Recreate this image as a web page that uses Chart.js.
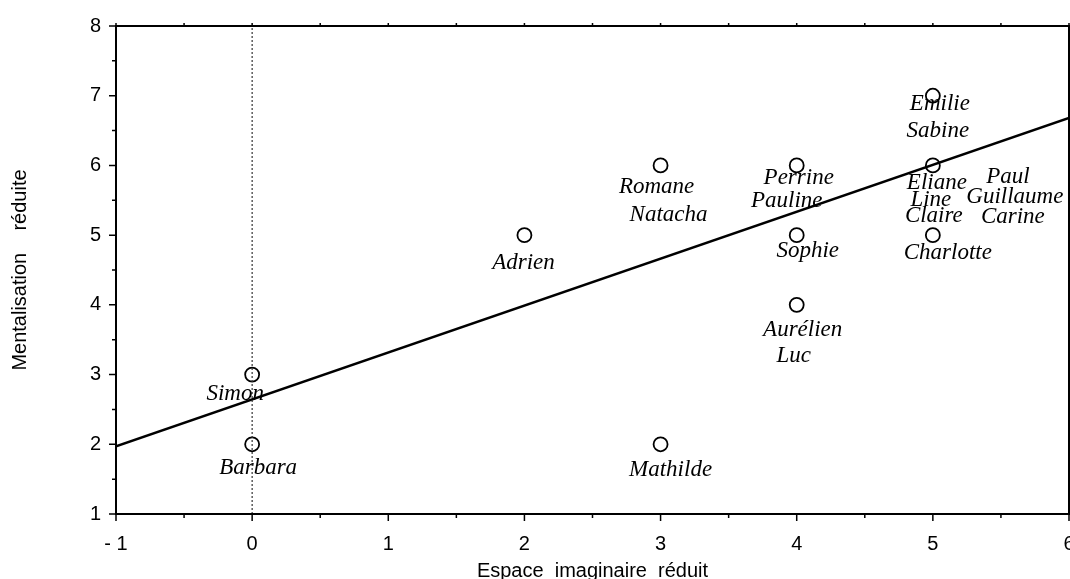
<!DOCTYPE html>
<html>
<head>
<meta charset="utf-8">
<script src="https://cdn.jsdelivr.net/npm/chart.js@4/dist/chart.umd.min.js"></script>
<style>
  html, body { margin: 0; padding: 0; background: #fff; }
  #wrap { width: 1070px; height: 579px; position: relative; }
</style>
</head>
<body>
<div id="wrap"><canvas id="c"></canvas></div>
<script>
// observations (one point per position, several children may share a point)
const xValues    = [0, 0, 2, 3, 3, 4, 4, 4, 5, 5, 5];
const yValues    = [3, 2, 5, 6, 2, 6, 5, 4, 7, 6, 5];
const pointNames = [
  ['Simon'], ['Barbara'], ['Adrien'], ['Romane', 'Natacha'], ['Mathilde'],
  ['Perrine', 'Pauline'], ['Sophie'], ['Aurélien', 'Luc'], ['Emilie', 'Sabine'],
  ['Eliane', 'Paul', 'Line', 'Guillaume', 'Claire', 'Carine'], ['Charlotte'],
];

// regression line end points
const fitX = [-1, 6];
const fitY = [1.97, 6.68];

// dotted reference line at x = 0
const refX = [0, 0];
const refY = [1, 8];

const xTickLabels = { '-1': '- 1', '0': '0', '1': '1', '2': '2', '3': '3', '4': '4', '5': '5', '6': '6' };

// where each handwritten name sits relative to its point (px)
const labelOffsets = {
  Simon: [-17, 19], Barbara: [6, 24], Adrien: [-1, 28],
  Romane: [-4, 22], Natacha: [8, 50], Mathilde: [10, 26],
  Perrine: [2, 13], Pauline: [-10, 36], Sophie: [11, 16],
  'Aurélien': [6, 25], Luc: [-3, 51], Emilie: [7, 8], Sabine: [5, 35],
  Eliane: [4, 18], Paul: [75, 12], Line: [-2, 35], Guillaume: [82, 32],
  Claire: [1, 51], Carine: [80, 52], Charlotte: [15, 18],
};

const points = xValues.map((x, i) => ({ x, y: yValues[i] }));

const frame = {
  id: 'frame',
  afterDraw(chart) {
    const { ctx, chartArea: a, scales: { x, y } } = chart;
    ctx.save();
    ctx.strokeStyle = '#000';
    ctx.lineWidth = 2;
    ctx.strokeRect(a.left, a.top, a.right - a.left, a.bottom - a.top);
    ctx.lineWidth = 1.5;
    ctx.beginPath();
    for (let v = -1; v <= 6; v += 0.5) {
      const px = x.getPixelForValue(v);
      const len = Number.isInteger(v) ? 7 : 4;
      ctx.moveTo(px, a.bottom); ctx.lineTo(px, a.bottom + len);
      ctx.moveTo(px, a.top); ctx.lineTo(px, a.top - 3);
    }
    for (let v = 1; v <= 8; v += 0.5) {
      const py = y.getPixelForValue(v);
      const len = Number.isInteger(v) ? 7 : 4;
      ctx.moveTo(a.left, py); ctx.lineTo(a.left - len, py);
    }
    ctx.stroke();

    // handwritten names
    ctx.fillStyle = '#000';
    ctx.font = 'italic 23px "Liberation Serif", serif';
    ctx.textAlign = 'center';
    ctx.textBaseline = 'middle';
    points.forEach((p, i) => {
      const px = x.getPixelForValue(p.x), py = y.getPixelForValue(p.y);
      pointNames[i].forEach(name => {
        const [dx, dy] = labelOffsets[name] || [0, 22];
        ctx.fillText(name, px + dx, py + dy);
      });
    });
    ctx.restore();
  }
};

new Chart(document.getElementById('c'), {
  type: 'scatter',
  data: {
    datasets: [
      {
        label: 'ref',
        data: refX.map((x, i) => ({ x, y: refY[i] })),
        showLine: true,
        borderColor: '#333',
        borderWidth: 1.2,
        borderDash: [2, 2],
        pointRadius: 0,
      },
      {
        label: 'fit',
        data: fitX.map((x, i) => ({ x, y: fitY[i] })),
        showLine: true,
        borderColor: '#000',
        borderWidth: 2.5,
        pointRadius: 0,
      },
      {
        label: 'enfants',
        data: points,
        pointStyle: 'circle',
        pointRadius: 7,
        pointBorderWidth: 1.8,
        pointBorderColor: '#000',
        pointBackgroundColor: 'rgba(255,255,255,0)',
      },
    ],
  },
  options: {
    responsive: true,
    maintainAspectRatio: false,
    animation: false,
    layout: { autoPadding: false, padding: { top: 26, right: 1, left: 0, bottom: 0 } },
    plugins: { legend: { display: false }, tooltip: { enabled: false } },
    scales: {
      x: {
        type: 'linear', min: -1, max: 6,
        grid: { display: false },
        border: { display: false },
        ticks: {
          stepSize: 1, padding: 10, color: '#000',
          font: { family: '"Liberation Sans", Arial, sans-serif', size: 20 },
          maxRotation: 0, autoSkip: false,
          callback: v => xTickLabels[String(v)] ?? '',
        },
        title: {
          display: true, text: 'Espace  imaginaire  réduit', color: '#000',
          font: { family: '"Liberation Sans", Arial, sans-serif', size: 20 },
          padding: { top: 0, bottom: -4 },
        },
        afterFit: s => { s.height = 65; s.paddingRight = 0; s.paddingLeft = 0; },
      },
      y: {
        type: 'linear', min: 1, max: 8,
        grid: { display: false },
        border: { display: false },
        ticks: {
          stepSize: 1, padding: 7, color: '#000',
          font: { family: '"Liberation Sans", Arial, sans-serif', size: 20 },
        },
        title: {
          display: true, text: 'Mentalisation    réduite', color: '#000',
          font: { family: '"Liberation Sans", Arial, sans-serif', size: 20 },
          padding: { top: 8, bottom: 40 },
        },
        afterFit: s => { s.width = 116; s.paddingTop = 0; s.paddingBottom = 0; },
      },
    },
  },
  plugins: [frame],
});
</script>
</body>
</html>
